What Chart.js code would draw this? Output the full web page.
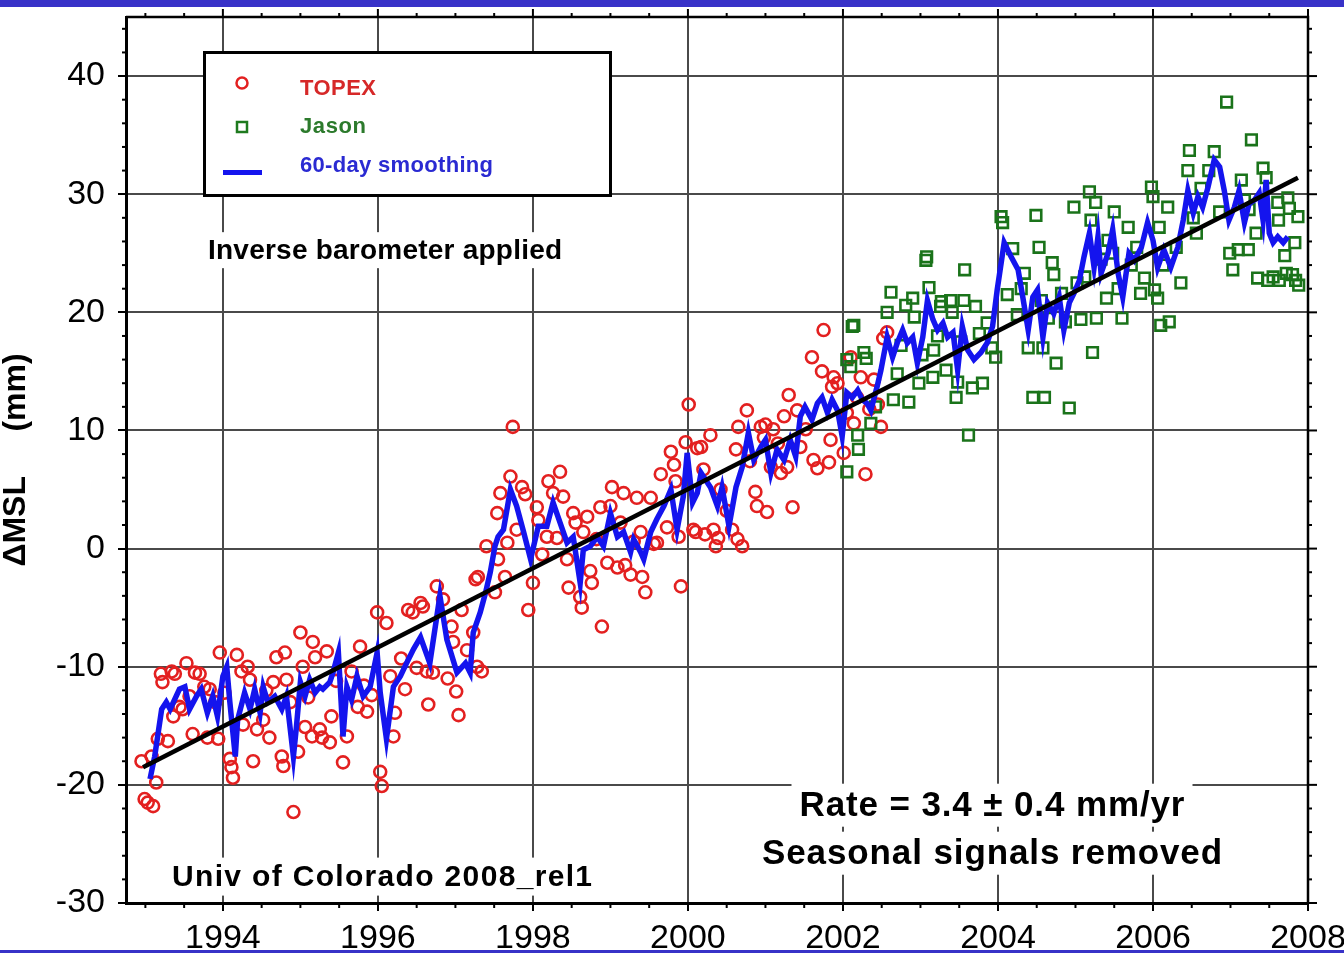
<!DOCTYPE html>
<html><head><meta charset="utf-8">
<script src="https://cdn.jsdelivr.net/npm/chart.js@4.4.1/dist/chart.umd.min.js"></script>
<style>html,body{margin:0;padding:0;background:#fff;overflow:hidden}canvas{display:block}</style>
</head><body>
<canvas id="c" width="1344" height="953"></canvas>
<script>
// ---------- data ----------
const yearTicks = [1994, 1996, 1998, 2000, 2002, 2004, 2006, 2008];
const mslTicks = [-30, -20, -10, 0, 10, 20, 30, 40];

const topexYears = [
1992.95,1992.99,1993.03,1993.08,1993.10,1993.14,1993.16,1993.20,1993.22,1993.29,
1993.34,1993.36,1993.38,1993.44,1993.48,1993.53,1993.57,1993.61,1993.64,1993.70,
1993.76,1993.80,1993.83,1993.90,1993.94,1993.96,1994.02,1994.09,1994.11,1994.13,
1994.18,1994.24,1994.26,1994.32,1994.35,1994.39,1994.44,1994.52,1994.56,1994.60,
1994.65,1994.69,1994.76,1994.78,1994.80,1994.82,1994.87,1994.91,1994.97,1995.00,
1995.03,1995.06,1995.10,1995.15,1995.16,1995.19,1995.25,1995.28,1995.34,1995.38,
1995.40,1995.46,1995.55,1995.60,1995.66,1995.74,1995.77,1995.82,1995.86,1995.92,
1995.99,1996.03,1996.05,1996.11,1996.16,1996.20,1996.22,1996.30,1996.35,1996.39,
1996.45,1996.50,1996.55,1996.58,1996.63,1996.65,1996.71,1996.76,1996.84,1996.90,
1996.95,1996.97,1997.01,1997.04,1997.08,1997.15,1997.23,1997.26,1997.28,1997.29,
1997.34,1997.40,1997.51,1997.54,1997.55,1997.58,1997.64,1997.67,1997.71,1997.74,
1997.79,1997.86,1997.90,1997.94,1998.00,1998.05,1998.07,1998.12,1998.18,1998.20,
1998.26,1998.31,1998.35,1998.39,1998.44,1998.46,1998.52,1998.55,1998.61,1998.63,
1998.65,1998.70,1998.74,1998.76,1998.82,1998.87,1998.89,1998.96,1999.00,1999.02,
1999.09,1999.13,1999.17,1999.19,1999.26,1999.30,1999.34,1999.39,1999.41,1999.45,
1999.52,1999.56,1999.60,1999.65,1999.73,1999.78,1999.82,1999.84,1999.88,1999.91,
1999.97,2000.01,2000.07,2000.10,2000.12,2000.17,2000.20,2000.22,2000.29,2000.33,
2000.36,2000.39,2000.42,2000.50,2000.57,2000.62,2000.64,2000.65,2000.70,2000.76,
2000.80,2000.87,2000.89,2000.94,2000.98,2001.00,2001.02,2001.07,2001.10,2001.16,
2001.20,2001.24,2001.28,2001.30,2001.35,2001.41,2001.45,2001.52,2001.60,2001.62,
2001.67,2001.73,2001.75,2001.82,2001.84,2001.86,2001.88,2001.93,2002.01,2002.05,
2002.10,2002.14,2002.18,2002.23,2002.29,2002.34,2002.40,2002.45,2002.49,2002.52,2002.57];
const topexMSL = [
-18.0,-21.2,-21.5,-17.6,-21.8,-19.8,-16.1,-10.6,-11.3,-16.3,
-10.4,-14.2,-10.6,-13.4,-13.6,-9.7,-12.5,-15.7,-10.5,-10.6,
-11.7,-16.0,-11.9,-13.0,-16.1,-8.8,-12.2,-17.8,-18.5,-19.4,
-9.0,-10.4,-14.9,-10.0,-11.1,-18.0,-15.3,-14.5,-12.0,-16.0,
-11.3,-9.2,-17.6,-18.4,-8.8,-11.1,-13.0,-22.3,-17.2,-7.1,
-10.0,-15.1,-12.6,-15.9,-7.9,-9.2,-15.3,-16.0,-8.7,-16.4,
-14.2,-11.2,-18.1,-15.9,-10.4,-13.4,-8.3,-11.6,-13.8,-12.4,
-5.4,-18.9,-20.1,-6.3,-10.8,-15.9,-13.9,-9.3,-11.9,-5.2,
-5.4,-10.1,-4.6,-4.9,-10.4,-13.2,-10.5,-3.2,-4.3,-11.0,
-6.6,-7.9,-12.1,-14.1,-5.2,-8.6,-7.1,-2.6,-10.0,-2.4,
-10.4,0.2,-3.7,3.0,-0.9,4.7,-2.4,0.5,6.1,10.3,
1.6,5.2,4.6,-5.2,-2.9,3.5,2.4,-0.5,1.0,5.7,
4.7,0.9,6.5,4.4,-0.9,-3.3,3.0,2.2,-4.1,-5.0,
1.4,2.7,-1.9,-2.9,0.8,3.5,-6.6,-1.2,3.6,5.2,
-1.6,2.2,4.7,-1.4,-2.2,0.6,4.3,1.4,-2.4,-3.7,
4.3,0.4,0.5,6.3,1.8,8.2,7.1,5.7,1.0,-3.2,
9.0,12.2,1.6,1.4,8.5,8.6,6.7,1.2,9.6,1.6,
0.2,0.9,5.0,3.2,1.6,8.4,0.8,10.3,0.2,11.7,
7.4,4.8,3.6,10.3,9.4,10.5,3.1,6.9,10.1,8.9,
6.4,11.2,6.9,13.0,3.5,11.7,8.6,10.1,16.2,7.5,
6.8,15.0,18.5,7.3,9.2,13.7,14.5,14.0,8.1,11.5,
16.2,10.6,12.8,14.5,6.3,11.8,14.3,12.2,10.3,17.8,18.3];

const jasonYears = [
2002.05,2002.05,2002.10,2002.12,2002.14,2002.19,2002.20,2002.27,2002.30,2002.36,
2002.42,2002.57,2002.62,2002.65,2002.70,2002.75,2002.81,2002.85,2002.90,2002.92,
2002.98,2003.02,2003.07,2003.08,2003.11,2003.16,2003.17,2003.22,2003.26,2003.27,
2003.33,2003.39,2003.41,2003.46,2003.48,2003.52,2003.56,2003.57,2003.62,2003.67,
2003.71,2003.76,2003.80,2003.86,2003.92,2003.97,2004.04,2004.06,2004.12,2004.19,
2004.25,2004.30,2004.34,2004.39,2004.45,2004.49,2004.53,2004.56,2004.58,2004.60,
2004.65,2004.70,2004.72,2004.75,2004.82,2004.87,2004.92,2004.98,2005.02,2005.07,
2005.12,2005.18,2005.20,2005.22,2005.26,2005.27,2005.33,2005.40,2005.42,2005.48,
2005.50,2005.55,2005.60,2005.68,2005.72,2005.79,2005.84,2005.89,2005.98,2006.00,
2006.02,2006.06,2006.08,2006.10,2006.13,2006.19,2006.21,2006.30,2006.36,2006.45,
2006.47,2006.52,2006.56,2006.62,2006.72,2006.79,2006.86,2006.95,2006.99,2007.03,
2007.10,2007.14,2007.18,2007.23,2007.24,2007.27,2007.33,2007.35,2007.42,2007.46,
2007.48,2007.55,2007.61,2007.62,2007.63,2007.70,2007.72,2007.74,2007.76,2007.80,
2007.83,2007.84,2007.87,2007.88];
const jasonMSL = [
6.5,16.0,15.4,18.8,18.9,9.6,8.4,16.6,16.1,10.6,
12.0,20.0,21.7,12.6,14.8,17.2,20.6,12.4,21.2,19.6,
14.0,16.4,24.4,24.7,22.1,14.5,16.8,18.0,20.5,20.9,
15.1,21.0,20.0,12.8,14.1,17.5,21.0,23.6,9.6,13.6,
20.5,18.2,14.0,19.1,17.0,16.2,28.1,27.6,21.5,25.4,
19.8,22.0,23.3,17.0,12.8,28.2,25.5,21.0,17.0,12.8,
19.5,24.2,23.2,15.7,21.6,19.2,11.9,28.9,22.5,19.4,
23.0,30.2,27.8,16.6,29.3,19.5,24.5,21.2,26.1,25.0,
28.5,22.0,19.5,27.2,24.0,25.5,21.6,22.9,30.6,29.8,
21.9,21.2,27.2,18.9,24.0,28.9,19.2,25.5,22.5,32.0,
33.7,28.0,26.7,30.5,32.0,33.6,28.5,37.8,25.0,23.6,
25.3,31.2,29.5,25.3,28.7,34.6,26.7,22.9,32.2,31.4,
22.7,23.0,29.3,27.8,22.7,24.8,23.3,29.7,28.8,23.2,
25.9,22.7,28.1,22.3];

const smoothYears = [
1993.06,1993.12,1993.21,1993.27,1993.32,1993.44,1993.51,1993.57,1993.66,1993.72,
1993.80,1993.87,1993.93,1994.00,1994.05,1994.09,1994.16,1994.19,1994.28,1994.35,
1994.41,1994.48,1994.52,1994.58,1994.67,1994.76,1994.82,1994.91,1994.95,1995.00,
1995.06,1995.12,1995.19,1995.25,1995.29,1995.38,1995.42,1995.49,1995.55,1995.60,
1995.66,1995.73,1995.81,1995.90,1995.99,1996.03,1996.11,1996.20,1996.29,1996.37,
1996.46,1996.55,1996.67,1996.80,1996.89,1997.02,1997.13,1997.19,1997.23,1997.32,
1997.39,1997.45,1997.51,1997.55,1997.62,1997.71,1997.79,1997.88,1997.97,1998.07,
1998.18,1998.26,1998.35,1998.44,1998.52,1998.61,1998.65,1998.74,1998.83,1998.91,
1999.00,1999.09,1999.17,1999.26,1999.30,1999.39,1999.43,1999.52,1999.60,1999.69,
1999.78,1999.86,1999.94,1999.99,2000.06,2000.12,2000.17,2000.29,2000.38,2000.44,
2000.53,2000.62,2000.70,2000.78,2000.85,2000.94,2001.00,2001.07,2001.15,2001.24,
2001.32,2001.39,2001.45,2001.51,2001.60,2001.67,2001.73,2001.80,2001.86,2001.93,
2001.99,2002.05,2002.12,2002.19,2002.25,2002.31,2002.36,2002.44,2002.49,2002.57,
2002.64,2002.70,2002.77,2002.83,2002.90,2002.96,2003.03,2003.09,2003.16,2003.22,
2003.29,2003.35,2003.42,2003.48,2003.54,2003.61,2003.69,2003.78,2003.86,2003.93,
2003.99,2004.08,2004.17,2004.26,2004.32,2004.39,2004.45,2004.51,2004.58,2004.64,
2004.72,2004.79,2004.85,2004.92,2004.98,2005.05,2005.11,2005.18,2005.24,2005.29,
2005.33,2005.42,2005.48,2005.55,2005.61,2005.69,2005.76,2005.85,2005.93,2006.00,
2006.06,2006.14,2006.23,2006.32,2006.39,2006.45,2006.52,2006.58,2006.64,2006.71,
2006.79,2006.86,2006.92,2006.98,2007.05,2007.11,2007.18,2007.24,2007.31,2007.37,
2007.42,2007.46,2007.50,2007.55,2007.61,2007.68,2007.74];
const smoothMSL = [
-19.5,-17.6,-13.6,-13.0,-13.6,-11.9,-11.7,-13.6,-12.5,-11.9,
-13.9,-12.5,-14.2,-10.8,-10.0,-13.0,-17.6,-14.5,-12.2,-13.6,
-11.9,-13.9,-11.7,-13.0,-12.5,-13.6,-12.5,-17.6,-15.0,-11.3,
-12.5,-11.1,-12.2,-11.7,-11.9,-11.3,-10.5,-8.8,-15.9,-11.7,
-12.8,-10.8,-12.5,-11.7,-8.8,-12.2,-16.1,-11.7,-10.8,-9.7,
-8.5,-7.5,-9.7,-4.0,-7.7,-10.5,-9.7,-10.5,-7.1,-5.4,
-3.7,-2.0,0.2,1.0,1.6,5.0,3.6,1.4,-0.9,1.9,
1.9,3.9,2.2,0.5,1.0,-2.9,-0.1,0.2,1.0,0.2,
3.0,1.0,1.4,-0.3,0.8,-0.3,-0.9,1.4,2.5,3.6,
5.0,1.6,4.4,8.1,3.9,4.7,6.4,5.2,3.6,5.2,
1.9,5.2,6.9,9.8,7.5,8.6,9.2,6.4,8.4,7.5,
9.2,7.8,11.2,12.0,10.9,12.3,12.8,11.5,12.6,11.7,
9.5,13.2,12.8,13.4,12.6,12.3,11.7,13.7,15.1,17.9,
16.2,17.4,18.5,17.4,17.9,15.7,17.9,21.0,19.4,18.5,
19.1,17.9,18.3,15.1,18.8,16.8,16.0,16.6,17.4,18.8,
21.9,25.9,24.7,23.6,21.3,18.5,21.3,21.9,17.9,20.8,
19.9,21.3,18.5,20.8,21.6,22.7,24.7,26.7,23.8,26.4,
23.3,25.0,27.0,23.3,21.3,25.0,24.4,25.5,27.6,26.1,
23.8,25.3,23.8,25.5,27.8,30.3,28.4,29.8,28.9,30.6,
32.9,32.3,30.3,27.8,28.9,30.3,27.6,29.2,29.5,30.1,
27.8,31.2,26.7,25.9,26.4,25.9,26.4];

const trendYears = [1992.97, 2007.87];
const trendMSL = [-18.5, 31.4];

// ---------- drawing ----------
const FONT = "'Liberation Sans', Arial, Helvetica, sans-serif";
const pts = (xs, ys) => xs.map((x, i) => ({x: x, y: ys[i]}));

function spacedText(ctx, text, x, y, target, align) {
  ctx.letterSpacing = '0px';
  const w = ctx.measureText(text).width;
  let sp = (target - w) / (text.length - 1);
  sp = Math.max(-1.5, Math.min(4, sp));
  ctx.letterSpacing = sp.toFixed(2) + 'px';
  const total = w + sp * (text.length - 1);
  const left = align === 'center' ? x - total / 2 : x;
  ctx.textAlign = 'left';
  ctx.fillText(text, left, y);
  ctx.letterSpacing = '0px';
  return {left: left, right: left + total};
}

function textBox(ctx, text, x, y, target, align, size) {
  ctx.font = 'bold ' + size + 'px ' + FONT;
  const left = align === 'center' ? x - target / 2 : x;
  ctx.fillStyle = '#fff';
  ctx.fillRect(left - 8, y - size * 0.78 - 5, target + 16, size * 1.0 + 8);
  ctx.fillStyle = '#000';
  spacedText(ctx, text, x, y, target, align);
}

const decor = {
  id: 'decor',
  beforeDatasetsDraw(chart) {
    const ctx = chart.ctx, a = chart.chartArea, xs = chart.scales.x, ys = chart.scales.y;
    ctx.save();
    ctx.strokeStyle = '#000';
    ctx.lineWidth = 2.5;
    ctx.beginPath();
    ctx.moveTo(a.left, a.top); ctx.lineTo(a.right, a.top); ctx.lineTo(a.right, a.bottom);
    ctx.stroke();
    ctx.lineWidth = 2;
    const seg = (x1, y1, x2, y2) => { ctx.beginPath(); ctx.moveTo(x1, y1); ctx.lineTo(x2, y2); ctx.stroke(); };
    // minor ticks on x (half years)
    for (let v = 1993; v < 2008; v += 0.5) {
      if (v % 2 === 0) continue;
      const px = xs.getPixelForValue(v);
      seg(px, a.bottom, px, a.bottom + 5);
      seg(px, a.top, px, a.top - 4);
    }
    yearTicks.forEach(v => { const px = xs.getPixelForValue(v); seg(px, a.top, px, a.top - 8); });
    // minor ticks on y (2 mm)
    for (let v = -28; v <= 44; v += 2) {
      if (v % 10 === 0) continue;
      const py = ys.getPixelForValue(v);
      seg(a.left - 4, py, a.left, py);
      seg(a.right, py, a.right + 4, py);
    }
    mslTicks.forEach(v => { const py = ys.getPixelForValue(v); seg(a.right, py, a.right + 9, py); });

    // annotation texts with white boxes
    ctx.textBaseline = 'alphabetic';
    textBox(ctx, 'Inverse barometer applied', 208, 259, 354, 'left', 28);
    textBox(ctx, 'Univ of Colorado 2008_rel1', 172, 886, 420, 'left', 30);
    textBox(ctx, 'Rate = 3.4 \u00b1 0.4 mm/yr', 992, 816, 385, 'center', 35);
    textBox(ctx, 'Seasonal signals removed', 992, 864, 460, 'center', 35);

    // legend box
    ctx.fillStyle = '#fff';
    ctx.fillRect(203, 51, 409, 146);
    ctx.lineWidth = 3;
    ctx.strokeStyle = '#000';
    ctx.strokeRect(204.5, 52.5, 406, 143);
    // legend markers
    ctx.lineWidth = 2.5;
    ctx.strokeStyle = '#e32020';
    ctx.beginPath(); ctx.arc(242, 83, 5.5, 0, Math.PI * 2); ctx.stroke();
    ctx.strokeStyle = '#1e7a1e';
    ctx.strokeRect(237, 122, 10, 10);
    ctx.strokeStyle = '#1414ee';
    ctx.lineWidth = 5;
    seg(223, 172.5, 262, 172.5);
    // legend texts
    ctx.font = 'bold 22px ' + FONT;
    ctx.fillStyle = '#d62828'; spacedText(ctx, 'TOPEX', 300, 95, 76, 'left');
    ctx.fillStyle = '#2c7a2c'; spacedText(ctx, 'Jason', 300, 133, 66, 'left');
    ctx.fillStyle = '#2a2ad2'; spacedText(ctx, '60-day smoothing', 300, 172, 193, 'left');
    ctx.restore();
  },
  afterDraw(chart) {
    const ctx = chart.ctx;
    ctx.save();
    ctx.fillStyle = '#3832c8';
    ctx.fillRect(0, 0, chart.width, 7);
    ctx.fillRect(0, 950, chart.width, 3);
    ctx.restore();
  }
};

new Chart(document.getElementById('c').getContext('2d'), {
  type: 'scatter',
  data: {
    datasets: [
      {label: 'trend', data: pts(trendYears, trendMSL), showLine: true, borderColor: '#000', borderWidth: 4.5, pointRadius: 0, order: 0},
      {label: '60-day smoothing', data: pts(smoothYears, smoothMSL), showLine: true, borderColor: '#1414ee', borderWidth: 5.5, borderJoinStyle: 'miter', tension: 0, pointRadius: 0, order: 1},
      {label: 'Jason', data: pts(jasonYears, jasonMSL), pointStyle: 'rect', pointRadius: 7.5, borderColor: '#1a731a', borderWidth: 2.6, backgroundColor: 'rgba(0,0,0,0)', order: 2},
      {label: 'TOPEX', data: pts(topexYears, topexMSL), pointStyle: 'circle', pointRadius: 6, borderColor: '#e32020', borderWidth: 2.6, backgroundColor: 'rgba(0,0,0,0)', order: 3}
    ]
  },
  options: {
    responsive: false, animation: false, devicePixelRatio: 1,
    layout: {padding: {top: 17, right: 36, bottom: 0, left: 0}},
    plugins: {legend: {display: false}, tooltip: {enabled: false}},
    scales: {
      x: {
        type: 'linear', min: 1992.75, max: 2008,
        afterBuildTicks: s => { s.ticks = yearTicks.map(v => ({value: v})); },
        afterFit: s => { s.height = 50; s.paddingLeft = 0; s.paddingRight = 0; },
        ticks: {font: {family: FONT, size: 34}, color: '#000', padding: 7, maxRotation: 0, autoSkip: false, callback: v => String(v)},
        grid: {color: '#4a4a4a', lineWidth: 2, tickColor: '#000', tickWidth: 2, tickLength: 8},
        border: {display: true, color: '#000', width: 3}
      },
      y: {
        type: 'linear', min: -30, max: 45,
        afterBuildTicks: s => { s.ticks = mslTicks.map(v => ({value: v})); },
        afterFit: s => { s.width = 126; s.paddingTop = 0; s.paddingBottom = 0; },
        ticks: {font: {family: FONT, size: 34}, color: '#000', padding: 13, autoSkip: false, callback: v => String(v)},
        grid: {color: '#4a4a4a', lineWidth: 2, tickColor: '#000', tickWidth: 2, tickLength: 8},
        border: {display: true, color: '#000', width: 3},
        title: {display: true, text: '\u0394MSL     (mm)', color: '#000', font: {family: FONT, size: 32, weight: 'bold', lineHeight: 1}, padding: {top: 0, bottom: 0}}
      }
    }
  },
  plugins: [decor]
});
</script>
</body></html>
